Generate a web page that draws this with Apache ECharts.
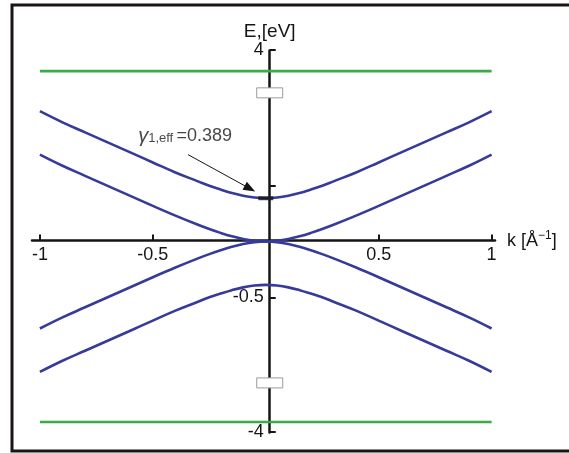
<!DOCTYPE html>
<html>
<head>
<meta charset="utf-8">
<script src="https://cdn.jsdelivr.net/npm/echarts@6/dist/echarts.min.js"></script>
<style>
  html, body { margin: 0; padding: 0; background: #fff; overflow: hidden; }
  #chart { width: 569px; height: 453px; }
</style>
</head>
<body>
<div id="chart"></div>
<script>
// Bilayer band structure E(k) near the K point
const kValues = [-1, -0.9, -0.8, -0.7, -0.6, -0.5, -0.4, -0.3, -0.25, -0.2, -0.15, -0.1, -0.05, 0,
                 0.05, 0.1, 0.15, 0.2, 0.25, 0.3, 0.4, 0.5, 0.6, 0.7, 0.8, 0.9, 1];
const outerUpper = [1.17, 1.07, 0.98, 0.89, 0.80, 0.71, 0.62, 0.54, 0.50, 0.467, 0.436, 0.411, 0.395, 0.389,
                    0.395, 0.411, 0.436, 0.467, 0.50, 0.54, 0.62, 0.71, 0.80, 0.89, 0.98, 1.07, 1.17];
const innerUpper = [0.78, 0.68, 0.59, 0.50, 0.41, 0.32, 0.233, 0.151, 0.113, 0.078, 0.047, 0.022, 0.006, 0,
                    0.006, 0.022, 0.047, 0.078, 0.113, 0.151, 0.233, 0.32, 0.41, 0.50, 0.59, 0.68, 0.78];
const innerLower = [-0.78, -0.68, -0.59, -0.50, -0.41, -0.32, -0.233, -0.151, -0.113, -0.078, -0.047, -0.022, -0.006, 0,
                    -0.006, -0.022, -0.047, -0.078, -0.113, -0.151, -0.233, -0.32, -0.41, -0.50, -0.59, -0.68, -0.78];
const outerLower = [-1.17, -1.07, -0.98, -0.89, -0.80, -0.71, -0.62, -0.54, -0.50, -0.467, -0.436, -0.411, -0.395, -0.389,
                    -0.395, -0.411, -0.436, -0.467, -0.50, -0.54, -0.62, -0.71, -0.80, -0.89, -0.98, -1.07, -1.17];

// Remote bands, shown beyond the axis breaks
const kRemote = [-1, -0.5, 0, 0.5, 1];
const remoteUpper = [3.81, 3.81, 3.81, 3.81, 3.81];
const remoteLower = [-3.91, -3.91, -3.91, -3.91, -3.91];

// Axis ticks and labels
const kTicks = [-1, -0.5, 0.5, 1];
const eTicks = [4, 0.5, -0.5, -4];
const eLabels = [4, -0.5, -4];
const eBreaks = [[1.29, 3.66], [-3.604, -1.224]];

// Marked gap value and its callout
const gammaEff = 0.389;
const calloutText = [-0.565, 0.945];
const arrowFrom = [-0.344, 0.78];
const arrowTo = [-0.07, 0.475];

const FONT = 'Liberation Sans, Arial, sans-serif';
const INK = '#151515';
const BLUE = '#363a98';
const GREEN = '#3aac47';
const GRID = { left: 32, right: 74, top: 50, bottom: 21 };
const W = 569, H = 453;

const zip = (xs, ys) => xs.map((x, i) => [x, ys[i]]);

const bandStyle = (data, color) => ({
  type: 'line',
  data,
  showSymbol: false,
  smooth: 0.4,
  lineStyle: { color, width: 2.6 },
  silent: true,
  z: 3
});

const chart = echarts.init(document.getElementById('chart'), null, { renderer: 'canvas' });

chart.setOption({
  animation: false,
  backgroundColor: '#fff',
  grid: GRID,
  xAxis: {
    type: 'value',
    min: -1.035,
    max: 1.015,
    position: 'bottom',
    axisLine: { onZero: false, lineStyle: { color: INK, width: 2.5 } },
    axisTick: { inside: true, length: 6, customValues: kTicks, lineStyle: { color: INK, width: 2 } },
    axisLabel: { customValues: kTicks, color: INK, fontSize: 18, fontFamily: FONT, margin: 5,
                 formatter: v => String(v) },
    splitLine: { show: false },
    name: '{a|k [Å}{s|−1}{a|]}',
    nameLocation: 'end',
    nameGap: 12,
    nameTextStyle: {
      rich: {
        a: { fontSize: 18, fontFamily: FONT, color: INK },
        s: { fontSize: 12, fontFamily: FONT, color: INK, padding: [0, 0, 10, 0] }
      }
    }
  },
  yAxis: {
    type: 'value',
    min: -4,
    max: 4,
    position: 'left',
    breaks: eBreaks.map(b => ({ start: b[0], end: b[1], gap: '2.6%' })),
    breakArea: { show: false },
    axisLine: { onZero: false, lineStyle: { color: INK, width: 2.5 } },
    axisTick: { inside: true, length: 6, customValues: eTicks, lineStyle: { color: INK, width: 2 } },
    axisLabel: { customValues: eLabels, color: INK, fontSize: 18, fontFamily: FONT, margin: 6,
                 formatter: v => String(v) },
    splitLine: { show: false },
    name: 'E,[eV]',
    nameLocation: 'end',
    nameGap: 8,
    nameTextStyle: { fontSize: 19, fontFamily: FONT, color: INK }
  },
  series: [
    bandStyle(zip(kValues, outerUpper), BLUE),
    bandStyle(zip(kValues, innerUpper), BLUE),
    bandStyle(zip(kValues, innerLower), BLUE),
    bandStyle(zip(kValues, outerLower), BLUE),
    bandStyle(zip(kRemote, remoteUpper), GREEN),
    bandStyle(zip(kRemote, remoteLower), GREEN),
    {
      // gap marker on the energy axis, with the callout arrow
      type: 'scatter',
      data: [[0, gammaEff]],
      symbol: 'rect',
      symbolSize: [15, 4],
      itemStyle: { color: INK },
      silent: true,
      z: 5,
      markLine: {
        silent: true,
        animation: false,
        symbol: ['none', 'triangle'],
        symbolSize: [9, 12],
        label: { show: false },
        lineStyle: { color: INK, width: 1, type: 'solid' },
        data: [[{ coord: arrowFrom }, { coord: arrowTo }]]
      }
    },
    {
      type: 'scatter',
      data: [calloutText],
      symbolSize: 0,
      silent: true,
      label: {
        show: true,
        position: 'right',
        distance: 0,
        formatter: '{g|γ}{s|1,eff} {n|=0.389}',
        rich: {
          g: { fontSize: 20, fontFamily: FONT, fontStyle: 'italic', color: INK },
          s: { fontSize: 13, fontFamily: FONT, color: INK, padding: [5, 0, 0, 0] },
          n: { fontSize: 18, fontFamily: FONT, color: INK }
        }
      }
    }
  ]
});

// Move both axes so they cross at the origin (labels travel with them)
const x0 = chart.convertToPixel({ xAxisIndex: 0 }, 0);
const y0 = chart.convertToPixel({ yAxisIndex: 0 }, 0);
chart.setOption({
  xAxis: { offset: -((H - GRID.bottom) - y0) },
  yAxis: { offset: -(x0 - GRID.left) }
});

// Outer frame and break boxes on the energy axis
const boxes = eBreaks.map((b, i) => {
  const ya = chart.convertToPixel({ yAxisIndex: 0 }, b[0]);
  const yb = chart.convertToPixel({ yAxisIndex: 0 }, b[1]);
  const yc = (ya + yb) / 2;
  return {
    type: 'rect',
    id: 'brk' + i,
    shape: { x: x0 - 13, y: yc - 5, width: 26, height: 10 },
    style: { fill: '#fff', stroke: '#9a9a9a', lineWidth: 1 },
    z: 20
  };
});
chart.setOption({
  graphic: [
    {
      type: 'polyline',
      id: 'frame',
      shape: { points: [[569, 5], [12, 5], [12, 451], [569, 451]] },
      style: { fill: 'none', stroke: '#1a1412', lineWidth: 3 },
      z: 30
    }
  ].concat(boxes)
});
</script>
</body>
</html>
